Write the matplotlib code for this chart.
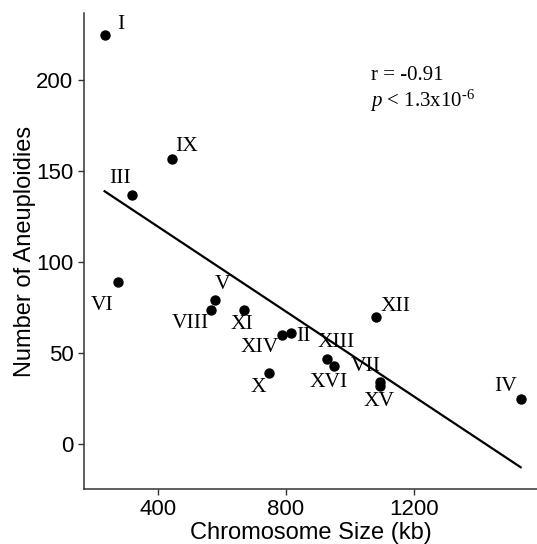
import matplotlib
matplotlib.use('Agg')
import matplotlib.pyplot as plt
import numpy as np

plt.rcParams['mathtext.fontset'] = 'custom'
plt.rcParams['mathtext.rm'] = 'Liberation Serif'
plt.rcParams['mathtext.it'] = 'Liberation Serif:italic'

# chromosome sizes (kb) and number of aneuploidies
chrom = ['I', 'II', 'III', 'IV', 'V', 'VI', 'VII', 'VIII',
         'IX', 'X', 'XI', 'XII', 'XIII', 'XIV', 'XV', 'XVI']
size_kb = [234, 815, 321, 1533, 580, 275, 1094, 566,
           444, 748, 670, 1081, 927, 787, 1094, 951]
aneuploidies = [225, 61, 137, 25, 79, 89, 34, 74,
                157, 39, 74, 70, 47, 60, 32, 43]

# label offsets in pixels (dx, dy)
offsets = {'I': (16, 10), 'II': (13, -3), 'III': (-12, 16), 'IV': (-15, 12),
           'V': (7, 16), 'VI': (-16, -23), 'VII': (-14, 16), 'VIII': (-21, -14),
           'IX': (15, 12), 'X': (-11, -14), 'XI': (-2, -15), 'XII': (20, 10),
           'XIII': (10, 16), 'XIV': (-22, -13), 'XV': (-1, -16), 'XVI': (-6, -17)}

fig = plt.figure(figsize=(5.37, 5.44), dpi=100)
ax = fig.add_axes([0.156, 0.101, 0.844, 0.875])

x = np.array(size_kb)
y = np.array(aneuploidies)
ax.scatter(x, y, s=42, color='black', zorder=3)

slope, intercept = np.polyfit(x, y, 1)
xs = np.array([x.min(), x.max()])
ax.plot(xs, slope * xs + intercept, color='black', lw=1.6)

for name, xi, yi in zip(chrom, size_kb, aneuploidies):
    ax.annotate(name, (xi, yi), xytext=offsets[name], textcoords='offset pixels',
                ha='center', va='center', fontsize=15.5, family='Liberation Serif')

ax.text(1065, 202.5, 'r = -0.91', fontsize=15, family='Liberation Serif',
        ha='left', va='center')
ax.text(1062, 188.5, r'$\mathit{p}$ < 1.3x10$^{\text{-6}}$', fontsize=15,
        family='Liberation Serif', ha='left', va='center')

ax.set_xlim(169, 1584)
ax.set_ylim(-24.7, 237)
ax.set_xticks([400, 800, 1200])
ax.set_yticks([0, 50, 100, 150, 200])
for s in ['top', 'right']:
    ax.spines[s].set_visible(False)
for s in ['left', 'bottom']:
    ax.spines[s].set_color('#333333')
    ax.spines[s].set_linewidth(1.1)
ax.tick_params(labelsize=16, color='#333333', length=4, width=1)
for lab in ax.get_xticklabels() + ax.get_yticklabels():
    lab.set_family('Liberation Sans')
ax.set_xlabel('Chromosome Size (kb)', fontsize=17, family='Liberation Sans', labelpad=1)
ax.set_ylabel('Number of Aneuploidies', fontsize=17, family='Liberation Sans', labelpad=0)

fig.savefig('out.png', dpi=100)
